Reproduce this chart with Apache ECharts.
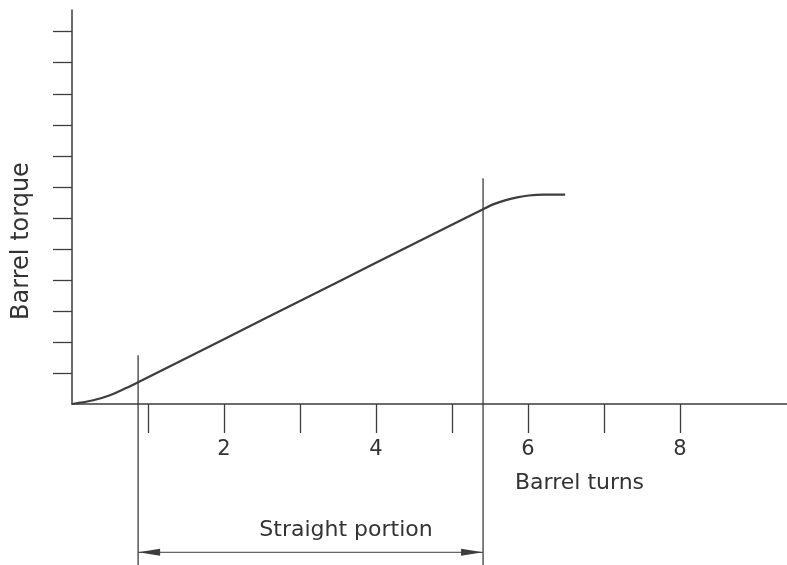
<!DOCTYPE html>
<html>
<head>
<meta charset="utf-8">
<script src="https://cdn.jsdelivr.net/npm/echarts@6/dist/echarts.min.js"></script>
<style>
html,body{margin:0;padding:0;background:#fff;}
#chart{width:787px;height:565px;}
</style>
</head>
<body>
<div id="chart"></div>
<script>
// ---- data ----
var turns  = [0, 0.28, 0.5, 0.72, 0.87, 2, 3, 4, 5, 5.41, 5.56, 5.71, 5.86, 6.01, 6.2, 6.49];
var torque = [0, 0.12, 0.28, 0.52, 0.70, 2.09, 3.32, 4.55, 5.78, 6.28, 6.45, 6.57, 6.66, 6.72, 6.75, 6.75];
var xTickValues  = [1, 2, 3, 4, 5, 6, 7, 8];
var xLabelValues = [2, 4, 6, 8];
var yTickValues  = [1, 2, 3, 4, 5, 6, 7, 8, 9, 10, 11, 12];
var straightStart = 0.87;   // barrel turns where straight portion begins
var straightEnd   = 5.41;   // barrel turns where straight portion ends
var xLabel = 'Barrel turns';
var yLabel = 'Barrel torque';
var spanLabel = 'Straight portion';

var X_MAX = 9.41, Y_MAX = 12.7, Y_BELOW = -5.2, ARROW_Y = -4.78;
var ink = '#3d3d3d';
var font = 'DejaVu Sans';

var curve = turns.map(function (t, i) { return [t, torque[i]]; });

var chart = echarts.init(document.getElementById('chart'), null, {renderer: 'canvas'});
chart.setOption({
  backgroundColor: '#ffffff',
  animation: false,
  grid: {left: 72, right: 0, top: 10, bottom: 161, containLabel: false, outerBoundsMode: 'none'},
  xAxis: {
    type: 'value', min: 0, max: X_MAX,
    axisLine: {show: true, onZero: false, lineStyle: {color: ink, width: 1.5}},
    axisTick: {show: true, customValues: xTickValues, length: 29, inside: false, lineStyle: {color: ink, width: 1.3}},
    axisLabel: {show: true, customValues: xLabelValues, margin: 35, color: '#333', fontFamily: font, fontSize: 21},
    splitLine: {show: false}
  },
  yAxis: {
    type: 'value', min: 0, max: Y_MAX,
    axisLine: {show: true, onZero: false, lineStyle: {color: ink, width: 1.5}},
    axisTick: {show: true, customValues: yTickValues, length: 19, inside: false, lineStyle: {color: ink, width: 1.3}},
    axisLabel: {show: false},
    splitLine: {show: false}
  },
  series: [
    {
      name: 'start marker', type: 'line', silent: true, symbol: 'none', clip: false,
      data: [[straightStart, 1.57], [straightStart, Y_BELOW]],
      lineStyle: {color: ink, width: 1.3}
    },
    {
      name: 'end marker', type: 'line', silent: true, symbol: 'none', clip: false,
      data: [[straightEnd, 7.28], [straightEnd, Y_BELOW]],
      lineStyle: {color: ink, width: 1.3}
    },
    {
      name: 'span arrow', type: 'line', silent: true, clip: false,
      symbol: 'triangle', symbolSize: [7, 22], showSymbol: true,
      itemStyle: {color: ink},
      lineStyle: {color: ink, width: 1},
      data: [
        {value: [straightStart, ARROW_Y], symbolRotate: 90, symbolOffset: [11, 0]},
        {value: [straightEnd, ARROW_Y], symbolRotate: -90, symbolOffset: [-11, 0]}
      ]
    },
    {
      name: 'Barrel torque', type: 'line', symbol: 'none', smooth: 0.3, clip: false,
      data: curve,
      lineStyle: {color: ink, width: 2.2}
    }
  ],
  graphic: [
    {type: 'text', left: 515, top: 472, style: {text: xLabel, fill: '#333', font: '22px "DejaVu Sans"'}},
    {type: 'text', x: 22, y: 241, rotation: Math.PI / 2,
      style: {text: yLabel, fill: '#333', font: '24px "DejaVu Sans"', textAlign: 'center', textVerticalAlign: 'middle'}},
    {type: 'text', x: 346, y: 530,
      style: {text: spanLabel, fill: '#333', font: '22px "DejaVu Sans"', textAlign: 'center', textVerticalAlign: 'middle'}}
  ]
});
</script>
</body>
</html>
